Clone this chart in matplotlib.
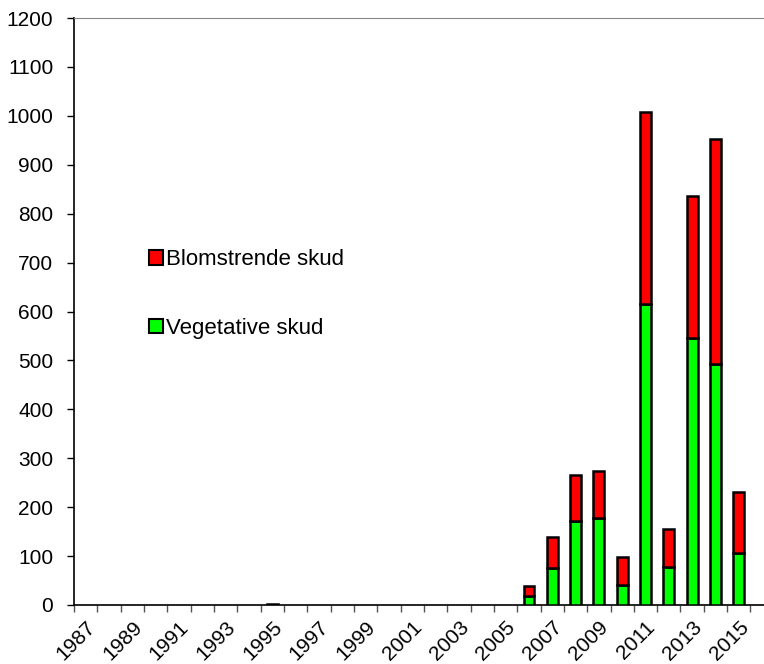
import matplotlib.pyplot as plt
import matplotlib.patches as mpatches
import numpy as np

plt.rcParams['font.family'] = ['Liberation Sans', 'DejaVu Sans']

# Data
years = list(range(1987, 2016))
vegetative = [0, 0, 0, 0, 0, 0, 0, 0, 2, 0, 0, 0, 0, 0, 0, 0, 0, 0, 0,
              18, 75, 172, 178, 40, 615, 78, 545, 492, 106]
blomstrende = [0, 0, 0, 0, 0, 0, 0, 0, 0, 0, 0, 0, 0, 0, 0, 0, 0, 0, 0,
               20, 63, 94, 96, 58, 392, 78, 292, 461, 125]
labels = [str(y) if (y - 1987) % 2 == 0 else '' for y in years]

fig = plt.figure(figsize=(7.64, 6.64), dpi=100)
ax = fig.add_axes([74 / 764, 1 - 605 / 664, 1 - 74 / 764, (605 - 18) / 664])

x = np.arange(len(years))
veg = np.array(vegetative)
blo = np.array(blomstrende)
# skip empty years so no zero-height outlines are drawn
mv = veg > 0
mb = blo > 0
ax.bar(x[mv], veg[mv], width=0.46, color='#00FF00', edgecolor='black', linewidth=1.8, zorder=3)
ax.bar(x[mb], blo[mb], width=0.46, bottom=veg[mb], color='#FF0000', edgecolor='black', linewidth=1.8, zorder=3)

ax.set_xlim(-0.5, 29.08)
ax.set_ylim(0, 1200)
ax.set_yticks(range(0, 1201, 100))

# category labels at centres, tick marks at boundaries
ax.set_xticks(x)
ax.set_xticklabels(labels, rotation=45, ha='right', rotation_mode='anchor', fontsize=15)
ax.tick_params(axis='x', which='major', length=0, pad=9)
ax.set_xticks(np.arange(-0.5, len(years) + 0.5, 1), minor=True)
ax.tick_params(axis='x', which='minor', length=5, width=1, color='#555555')
ax.tick_params(axis='y', length=5, width=1, labelsize=15, pad=10)

ax.spines['right'].set_visible(False)
ax.spines['top'].set_color('#888888')
ax.spines['left'].set_linewidth(1.2)
ax.spines['bottom'].set_linewidth(1.2)

handles = [mpatches.Patch(facecolor='#FF0000', edgecolor='black', linewidth=1.5, label='Blomstrende skud'),
           mpatches.Patch(facecolor='#00FF00', edgecolor='black', linewidth=1.5, label='Vegetative skud')]
ax.legend(handles=handles, loc='upper left', bbox_to_anchor=(0.08, 0.64), frameon=False,
          fontsize=16, handlelength=0.6, handleheight=0.6, handletextpad=0.15, labelspacing=2.15)

fig.savefig('out.png', dpi=100)
